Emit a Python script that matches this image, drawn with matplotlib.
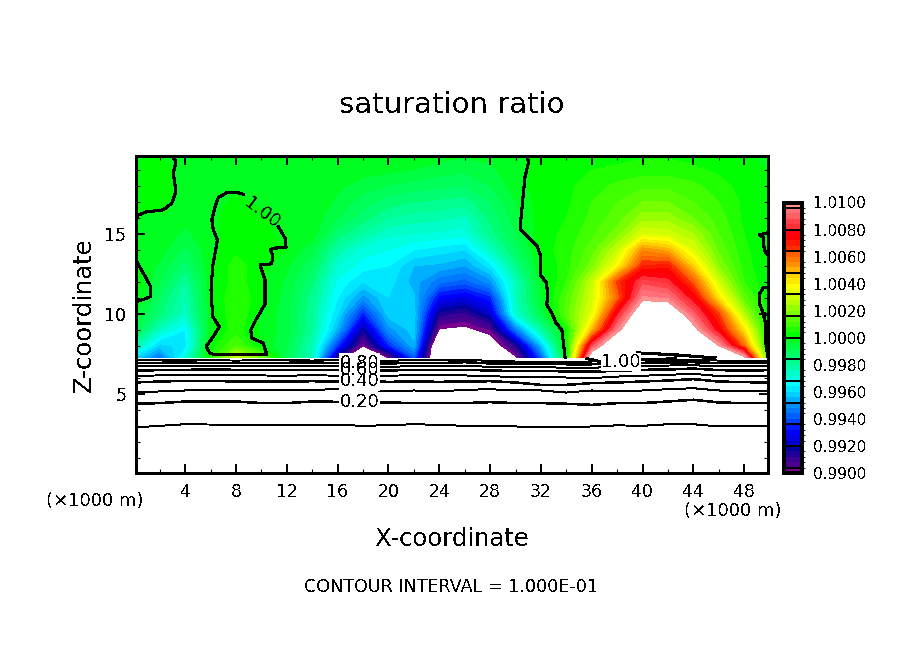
import numpy as np
import matplotlib
matplotlib.use('Agg')
import matplotlib.pyplot as plt
from matplotlib.colors import ListedColormap, BoundaryNorm
from matplotlib.ticker import MultipleLocator

plt.rcParams['text.antialiased'] = False
plt.rcParams['lines.antialiased'] = False
plt.rcParams['patch.antialiased'] = False

# grid of the field, x and z in 1000 m
x_nodes = np.arange(0, 51, 2)
z_nodes = [7.25, 8, 9, 10, 11, 12, 13, 14, 15, 16, 17, 18, 19, 20]

# saturation ratio minus 1, in units of 1e-4, rows from low z to high z
sat_rows = [
    [-40, -55, -30, 5, 30, 18, -10, -25, -88, -130, -100, -60, -125, -125, -112, -102, -60, 0, 115, 130, 130, 130, 125, 112, 105, 5],
    [-22, -42, -38, 2, 12, 0, -8, -24, -64, -100, -66, -45, -125, -125, -110, -88, -45, 2, 85, 125, 130, 130, 125, 100, 60, 0],
    [-8, -26, -36, -1, 6, -1, -6, -20, -46, -84, -50, -42, -101, -103, -96, -55, -22, 3, 48, 95, 130, 130, 105, 75, 42, 0],
    [-3, -15, -26, -2, 8, -1, -6, -20, -40, -66, -42, -42, -86, -90, -78, -28, -8, 14, 33, 78, 115, 115, 90, 65, 25, 0],
    [2, -12, -24, -1, 8, 1, -6, -18, -36, -50, -40, -43, -70, -74, -66, -25, -4, 12, 30, 60, 97, 95, 76, 42, 14, 0],
    [3, -8, -20, -1, 6, 1, -5, -15, -33, -40, -38, -46, -55, -58, -50, -25, -3, 8, 28, 65, 86, 82, 62, 30, 8, 0],
    [1, -5, -14, -1, 6, 1, -3, -11, -28, -34, -36, -44, -45, -48, -38, -18, 0, 6, 18, 38, 68, 70, 45, 20, 6, 0],
    [-1, -2, -9, -1, 3, 1, 0, -7, -22, -30, -32, -36, -38, -40, -26, -12, 2, 6, 14, 28, 55, 50, 32, 15, 5, 0],
    [-1, -1, -5, -1, 2, 1, -1, -2, -14, -21, -27, -28, -29, -30, -18, -8, 2, 5, 11, 18, 32, 30, 24, 12, 4, 1],
    [-1, -1, -3, -1, 2, 1, -2, -1, -8, -14, -20, -22, -23, -25, -15, -6, 2, 4, 9, 14, 22, 22, 16, 10, 3, 1],
    [1, 1, -1, -2, 1, -1, -3, 0, -5, -10, -14, -16, -17, -18, -12, -4, 2, 3, 8, 12, 16, 16, 12, 8, 3, 1],
    [1, 1, -1, -1, -1, -1, -3, 0, -3, -6, -8, -10, -11, -12, -8, -2, 2, 3, 6, 9, 11, 11, 9, 6, 2, 1],
    [1, 1, -1, -1, -1, -1, -2, 0, -1, -2, -3, -4, -6, -7, -5, -1, 1, 2, 4, 5, 6, 6, 5, 3, 1, 0],
    [0, 0, -1, -1, -1, -1, -1, 0, 0, -1, -1, -2, -2, -3, -2, -1, 1, 1, 2, 2, 3, 3, 2, 1, 0, 0],
]

colors = [
    '#7a0090',
    '#4b0090', '#3c0094', '#1e0096', '#0000a0',
    '#0000c8', '#0000e0', '#0000ff', '#0018ff',
    '#0040ff', '#0060ff', '#0078ff', '#0090ff',
    '#00b0ff', '#00d0ff', '#00e8ff', '#00ffff',
    '#00ffe0', '#00ffc8', '#00ffa8', '#00ff90',
    '#00ff70', '#00ff58', '#00ff40', '#00ff20',
    '#00ff00', '#20ff00', '#40ff00', '#58ff00',
    '#78ff00', '#98ff00', '#b8ff00', '#d0ff00',
    '#e8ff00', '#ffff00', '#ffe800', '#ffd000',
    '#ffb000', '#ff9000', '#ff7800', '#ff6000',
    '#ff3000', '#ff1800', '#ff0000', '#ff0010',
    '#ff3038', '#ff4048', '#ff6068', '#ff7078',
    '#ff9090',
]

# heights of the low contour levels at x_nodes
q_01 = [2.9, 3.0, 3.1, 3.08, 3.04, 3.04, 3.04, 3.04, 3.06, 3.0, 3.04, 3.1, 3.06, 3.0, 2.96, 2.96, 2.92, 2.92, 2.96, 3.03, 3.0, 3.1, 3.1, 2.96, 2.96, 2.96]
q_02 = [4.38, 4.42, 4.52, 4.52, 4.52, 4.42, 4.42, 4.52, 4.5, 4.48, 4.46, 4.42, 4.42, 4.42, 4.48, 4.42, 4.42, 4.38, 4.31, 4.42, 4.42, 4.52, 4.63, 4.46, 4.42, 4.42]
q_03 = [5.08, 5.15, 5.21, 5.25, 5.21, 5.21, 5.21, 5.25, 5.29, 5.29, 5.15, 5.21, 5.15, 5.25, 5.29, 5.21, 5.21, 5.08, 5.21, 5.15, 5.21, 5.29, 5.35, 5.21, 5.15, 5.15]
q_04 = [5.71, 5.77, 5.81, 5.81, 5.77, 5.77, 5.77, 5.79, 5.77, 5.79, 5.75, 5.77, 5.75, 5.77, 5.79, 5.71, 5.56, 5.56, 5.67, 5.71, 5.77, 5.83, 5.92, 5.77, 5.73, 5.71]
q_05 = [6.13, 6.15, 6.19, 6.17, 6.15, 6.15, 6.13, 6.17, 6.13, 6.17, 6.13, 6.17, 6.15, 6.15, 6.11, 6.04, 6.06, 6.02, 5.98, 6.08, 6.13, 6.19, 6.25, 6.11, 6.13, 6.13]
q_06 = [6.46, 6.48, 6.5, 6.52, 6.5, 6.48, 6.5, 6.5, 6.48, 6.5, 6.46, 6.5, 6.48, 6.5, 6.46, 6.42, 6.44, 6.4, 6.38, 6.44, 6.5, 6.52, 6.58, 6.48, 6.46, 6.48]
q_07 = [6.71, 6.73, 6.75, 6.73, 6.73, 6.71, 6.73, 6.75, 6.71, 6.73, 6.69, 6.73, 6.71, 6.75, 6.69, 6.67, 6.67, 6.63, 6.63, 6.69, 6.73, 6.77, 6.79, 6.71, 6.71, 6.71]
q_08 = [6.92, 6.94, 6.96, 6.92, 6.94, 6.92, 6.94, 6.96, 6.92, 6.92, 6.9, 6.94, 6.92, 6.98, 6.9, 6.88, 6.88, 6.85, 6.85, 6.9, 6.94, 6.96, 6.98, 6.92, 6.92, 6.92]
q_09 = [7.08, 7.12, 7.13, 7.1, 7.08, 7.1, 7.12, 7.08, 7.13, 7.1, 7.06, 7.12, 7.1, 7.13, 7.06, 7.02, 7.02, 7.0, 7.02, 7.06, 7.1, 7.12, 7.13, 7.08, 7.06, 7.04]
low_levels = [q_01, q_02, q_03, q_04, q_05, q_06, q_07, q_08, q_09]
low_widths = [0.7, 1.1, 0.7, 1.1, 0.7, 1.1, 0.7, 1.1, 0.7]

# traced pieces of the 1.00 contour, (x, z) in 1000 m
c100_top_left = [[2.94, 19.9], [3.27, 19.52], [3.06, 18.79], [3.27, 17.64], [2.94, 16.92], [2.27, 16.5], [0.97, 16.38], [0.31, 16.19], [0.125, 16.0]]
c100_left = [[0.125, 13.35], [0.7, 12.54], [1.28, 11.7], [1.28, 11.08], [0.83, 10.94], [0.125, 10.75]]
c100_loop = [
    [8.57, 17.48], [8.05, 17.6], [7.27, 17.58], [6.6, 17.27], [6.35, 16.71], [6.09, 15.88], [6.21, 15.25],
    [6.53, 14.63], [6.35, 13.79], [6.16, 12.96], [6.03, 11.5], [6.16, 9.83], [6.68, 9.2], [6.21, 8.58],
    [5.64, 7.96], [5.95, 7.54], [6.35, 7.44], [10.42, 7.44], [10.15, 8.17], [9.24, 8.48], [9.16, 9.0],
    [9.63, 9.73], [10.28, 10.6], [10.28, 12.13], [9.89, 13.06], [10.81, 13.13], [10.89, 13.69], [10.68, 14.0],
    [10.94, 14.11], [11.94, 14.14], [11.86, 14.73], [11.33, 15.46],
]
c100_mid = [
    [30.94, 19.9], [31.01, 19.42], [30.75, 18.58], [30.57, 17.13], [30.42, 15.88], [30.42, 15.25], [31.01, 14.79],
    [31.72, 14.21], [31.99, 13.58], [31.94, 12.44], [32.46, 11.92], [32.51, 11.08], [32.46, 10.56], [32.86, 10.04],
    [33.2, 9.42], [33.65, 9.0], [33.77, 8.17], [33.9, 7.25],
]
c100_right_a = [[49.8, 15.06], [49.17, 14.94], [49.49, 14.81], [49.49, 14.44], [49.65, 13.88], [49.875, 13.69]]
c100_right_b = [[49.8, 11.63], [49.49, 11.63], [49.17, 11.19], [49.17, 10.69], [49.49, 10.06], [49.8, 9.94]]
c100_right_c = [[49.49, 10.06], [49.65, 9.5], [49.65, 8.5], [49.8, 7.63], [49.875, 7.3]]
c100_low_a = [[35.63, 7.2], [36.4, 7.06], [36.9, 7.0]]
c100_low_b = [[39.6, 7.56], [42.6, 7.44], [44.6, 7.31], [45.7, 7.25]]
c100_low_c = [[39.6, 7.12], [41.4, 7.12], [42.6, 7.25]]
c100_pieces = [c100_top_left, c100_left, c100_loop, c100_mid, c100_right_a, c100_right_b, c100_right_c, c100_low_a, c100_low_b, c100_low_c]

label_text = ['0.20', '0.40', '0.60', '0.80']
label_x = [17.7, 17.7, 17.7, 17.7]
label_z = [4.5, 5.8, 6.5, 6.95]

x_major = [4, 8, 12, 16, 20, 24, 28, 32, 36, 40, 44, 48]
z_major = [5, 10, 15]
bar_ticks = [0.99, 0.992, 0.994, 0.996, 0.998, 1.0, 1.002, 1.004, 1.006, 1.008, 1.01]

W, H = 904, 654
fig = plt.figure(figsize=(W / 100, H / 100), dpi=100)
ax = fig.add_axes([136 / W, (H - 473) / H, 632 / W, 317 / H])
cax = fig.add_axes([784 / W, (H - 473) / H, 18 / W, 270.5 / H])

field = 1 + np.array(sat_rows) * 1e-4
levels = np.linspace(0.99, 1.01, 51)
cmap = ListedColormap(colors)
norm = BoundaryNorm(levels, cmap.N)
cf = ax.contourf(x_nodes, z_nodes, field, levels=levels, cmap=cmap, norm=norm, antialiased=False)

for q, lw in zip(low_levels, low_widths):
    ax.plot(x_nodes, q, color='k', lw=lw, zorder=3)
for piece in c100_pieces:
    p = np.array(piece)
    ax.plot(p[:, 0], p[:, 1], color='k', lw=1.5, zorder=3)

# contour labels: white gaps first, so no gap hides a neighbouring label
for t, lx, lz in zip(label_text, label_x, label_z):
    ax.text(lx, lz, t, ha='center', va='center', fontsize=13, color='white', zorder=4,
            bbox=dict(facecolor='white', edgecolor='none', pad=0.5))
for t, lx, lz in zip(label_text, label_x, label_z):
    ax.text(lx, lz, t, ha='center', va='center', fontsize=13, color='k', zorder=5)
ax.text(38.3, 7.0, '1.00', ha='center', va='center', fontsize=13, color='k', zorder=5,
        bbox=dict(facecolor='white', edgecolor='none', pad=0))
ax.text(10.02, 16.29, '1.00', ha='center', va='center', fontsize=13, color='k', rotation=-37,
        rotation_mode='anchor', zorder=5)

ax.set_xlim(0.125, 49.875)
ax.set_ylim(0.05, 19.87)
ax.set_xticks(x_major)
ax.set_yticks(z_major)
ax.xaxis.set_minor_locator(MultipleLocator(2))
ax.yaxis.set_minor_locator(MultipleLocator(1))
ax.tick_params(which='major', direction='in', top=True, right=True, length=6.5, width=1.4, labelsize=12.5, pad=7)
ax.tick_params(which='minor', direction='in', top=True, right=True, length=2.8, width=0.8)
for s in ax.spines.values():
    s.set_linewidth(2)

cb = fig.colorbar(cf, cax=cax, ticks=bar_ticks, format='%.4f', spacing='proportional')
cb.dividers = None
cax.hlines(levels[1::4], 0, 1, color='k', lw=1.2)
cax.tick_params(length=0, labelsize=11, pad=8)
cb.outline.set_linewidth(1.5)

fig.text(452 / W, 1 - 105 / H, 'saturation ratio', ha='center', va='center', fontsize=21)
fig.text(452 / W, 1 - 539 / H, 'X-coordinate', ha='center', va='center', fontsize=17.5)
fig.text(84 / W, 1 - 315 / H, 'Z-coordinate', ha='center', va='center', rotation=90, fontsize=17.5)
fig.text(95 / W, 1 - 501 / H, '(×1000 m)', ha='center', va='center', fontsize=13)
fig.text(733 / W, 1 - 511 / H, '(×1000 m)', ha='center', va='center', fontsize=13)
fig.text(451 / W, 1 - 587 / H, 'CONTOUR INTERVAL = 1.000E-01', ha='center', va='center', fontsize=12.6)

fig.savefig('out.png', dpi=100)
